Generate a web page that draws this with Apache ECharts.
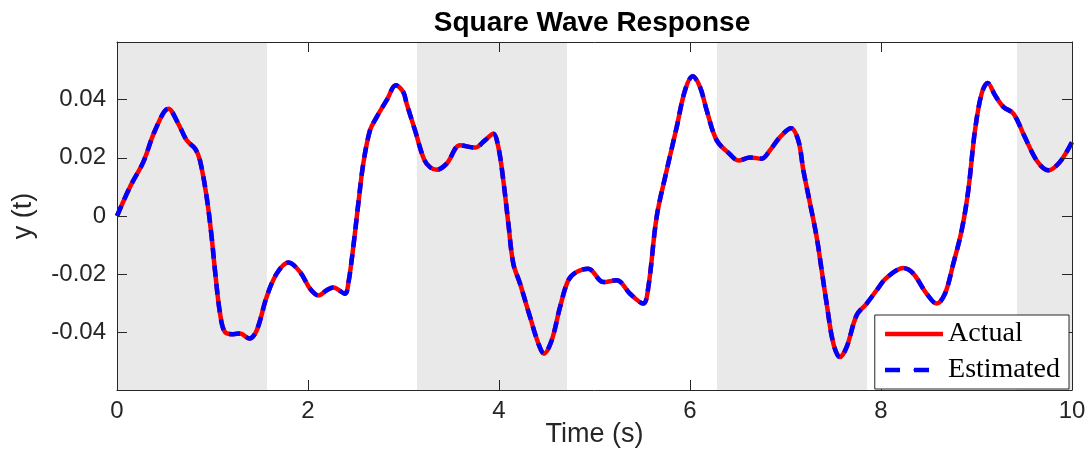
<!DOCTYPE html>
<html>
<head>
<meta charset="utf-8">
<script src="https://cdn.jsdelivr.net/npm/echarts@6/dist/echarts.min.js"></script>
<style>
  html, body { margin: 0; padding: 0; background: #fff; }
  #chart { width: 1088px; height: 450px; }
</style>
</head>
<body>
<div id="chart"></div>
<script>
// Sample times (s) of the response
const timeS = [
  0.000, 0.136, 0.276, 0.398, 0.538, 0.642, 0.730, 0.817, 0.869, 0.939,
  0.991, 1.026, 1.079, 1.131, 1.218, 1.288, 1.386, 1.463, 1.567, 1.672,
  1.794, 1.916, 2.021, 2.108, 2.196, 2.265, 2.387, 2.422, 2.474, 2.527,
  2.579, 2.649, 2.719, 2.824, 2.921, 2.998, 3.033, 3.120, 3.215, 3.277,
  3.348, 3.452, 3.592, 3.749, 3.853, 3.940, 3.993, 4.045, 4.098, 4.150,
  4.220, 4.325, 4.412, 4.471, 4.552, 4.639, 4.726, 4.814, 4.935, 5.092,
  5.232, 5.372, 5.511, 5.564, 5.651, 5.756, 5.861, 5.948, 6.028, 6.105,
  6.175, 6.280, 6.419, 6.506, 6.629, 6.751, 6.838, 6.942, 7.058, 7.134,
  7.187, 7.257, 7.326, 7.379, 7.431, 7.501, 7.571, 7.641, 7.745, 7.850,
  7.955, 8.059, 8.234, 8.338, 8.478, 8.583, 8.670, 8.757, 8.845, 8.914,
  8.984, 9.054, 9.117, 9.194, 9.281, 9.386, 9.490, 9.630, 9.752, 9.874,
  10.000
];

// Measured output y(t)
const yActual = [
  0.0000, 0.0100, 0.0186, 0.0294, 0.0369, 0.0317, 0.0260, 0.0232, 0.0191, 0.0065,
  -0.0072, -0.0187, -0.0335, -0.0399, -0.0406, -0.0404, -0.0421, -0.0393, -0.0278, -0.0198,
  -0.0160, -0.0192, -0.0250, -0.0273, -0.0255, -0.0246, -0.0267, -0.0232, -0.0107, 0.0043,
  0.0180, 0.0294, 0.0340, 0.0398, 0.0449, 0.0426, 0.0386, 0.0295, 0.0195, 0.0168,
  0.0159, 0.0180, 0.0243, 0.0235, 0.0260, 0.0283, 0.0237, 0.0123, -0.0026, -0.0164,
  -0.0232, -0.0347, -0.0438, -0.0473, -0.0427, -0.0313, -0.0221, -0.0192, -0.0181, -0.0227,
  -0.0221, -0.0267, -0.0301, -0.0244, -0.0003, 0.0157, 0.0306, 0.0432, 0.0480, 0.0443,
  0.0363, 0.0260, 0.0212, 0.0191, 0.0201, 0.0197, 0.0226, 0.0271, 0.0302, 0.0260,
  0.0157, 0.0043, -0.0072, -0.0187, -0.0301, -0.0438, -0.0485, -0.0450, -0.0341, -0.0301,
  -0.0255, -0.0212, -0.0179, -0.0198, -0.0267, -0.0301, -0.0267, -0.0164, -0.0049, 0.0088,
  0.0294, 0.0421, 0.0457, 0.0415, 0.0375, 0.0352, 0.0283, 0.0191, 0.0157, 0.0186,
  0.0254
];

// Model-estimated output y(t)
const yEstimated = [
  0.0000, 0.0100, 0.0186, 0.0294, 0.0369, 0.0317, 0.0260, 0.0232, 0.0191, 0.0065,
  -0.0072, -0.0187, -0.0335, -0.0399, -0.0406, -0.0404, -0.0421, -0.0393, -0.0278, -0.0198,
  -0.0160, -0.0192, -0.0250, -0.0273, -0.0255, -0.0246, -0.0267, -0.0232, -0.0107, 0.0043,
  0.0180, 0.0294, 0.0340, 0.0398, 0.0449, 0.0426, 0.0386, 0.0295, 0.0195, 0.0168,
  0.0159, 0.0180, 0.0243, 0.0235, 0.0260, 0.0283, 0.0237, 0.0123, -0.0026, -0.0164,
  -0.0232, -0.0347, -0.0438, -0.0473, -0.0427, -0.0313, -0.0221, -0.0192, -0.0181, -0.0227,
  -0.0221, -0.0267, -0.0301, -0.0244, -0.0003, 0.0157, 0.0306, 0.0432, 0.0480, 0.0443,
  0.0363, 0.0260, 0.0212, 0.0191, 0.0201, 0.0197, 0.0226, 0.0271, 0.0302, 0.0260,
  0.0157, 0.0043, -0.0072, -0.0187, -0.0301, -0.0438, -0.0485, -0.0450, -0.0341, -0.0301,
  -0.0255, -0.0212, -0.0179, -0.0198, -0.0267, -0.0301, -0.0267, -0.0164, -0.0049, 0.0088,
  0.0294, 0.0421, 0.0457, 0.0415, 0.0375, 0.0352, 0.0283, 0.0191, 0.0157, 0.0186,
  0.0254
];

// Intervals where the square-wave input is high
const inputHighStart = [0, 3.1416, 6.2832, 9.4248];
const inputHighEnd = [1.5708, 4.7124, 7.8540, 10];

// Axis ticks
const xTicks = [0, 2, 4, 6, 8, 10];
const yTicks = [-0.04, -0.02, 0, 0.02, 0.04];

const pairs = (xs, ys) => xs.map((x, i) => [x, ys[i]]);

const axisColor = '#262626';
const sansFont = '"Liberation Sans", Arial, Helvetica, sans-serif';
const lineW = 4.5;

const chart = echarts.init(document.getElementById('chart'), null, { renderer: 'canvas' });

const baseX = {
  type: 'value', min: 0, max: 10, interval: 2, z: 3,
  axisLine: { show: true, onZero: false, lineStyle: { color: axisColor, width: 1 } },
  axisTick: { show: true, inside: true, length: 10, customValues: xTicks, lineStyle: { color: axisColor, width: 1 } },
  splitLine: { show: false }
};
const baseY = {
  type: 'value', min: -0.0598, max: 0.0598, z: 3,
  axisLine: { show: true, onZero: false, lineStyle: { color: axisColor, width: 1 } },
  axisTick: { show: true, inside: true, length: 10, customValues: yTicks, lineStyle: { color: axisColor, width: 1 } },
  splitLine: { show: false }
};

chart.setOption({
  animation: false,
  backgroundColor: '#ffffff',
  title: {
    text: 'Square Wave Response',
    left: 587, top: 4, textAlign: 'center',
    textStyle: { fontFamily: sansFont, fontWeight: 'bold', fontSize: 28, color: '#000' }
  },
  grid: { left: 117, right: 16, top: 42, bottom: 60, containLabel: false, outerBoundsMode: 'none' },
  legend: {
    data: [
      { name: 'Actual', lineStyle: { width: lineW, type: 'solid' } },
      { name: 'Estimated', lineStyle: { width: lineW, type: [15, 14] } }
    ],
    orient: 'vertical',
    right: 19, bottom: 61,
    padding: [4, 9, 4, 8],
    itemGap: 6,
    itemWidth: 58, itemHeight: 2,
    lineStyle: { width: lineW },
    backgroundColor: '#ffffff',
    borderColor: '#262626', borderWidth: 1, borderRadius: 0,
    textStyle: { fontFamily: '"Liberation Serif", "DejaVu Serif", serif', fontSize: 28, color: '#000', lineHeight: 30 }
  },
  xAxis: [
    Object.assign({}, baseX, {
      position: 'bottom',
      name: 'Time (s)', nameLocation: 'middle', nameGap: 31, nameMoveOverlap: false,
      nameTextStyle: { fontFamily: sansFont, fontSize: 27, color: axisColor },
      axisLabel: { show: true, customValues: xTicks, margin: 9, fontFamily: sansFont, fontSize: 24, color: axisColor }
    }),
    Object.assign({}, baseX, { position: 'top', axisLabel: { show: false } })
  ],
  yAxis: [
    Object.assign({}, baseY, {
      position: 'left',
      name: 'y (t)', nameLocation: 'middle', nameGap: 80, nameRotate: 90,
      nameTextStyle: { fontFamily: sansFont, fontSize: 27, color: axisColor },
      axisLabel: { show: true, customValues: yTicks, margin: 11, fontFamily: sansFont, fontSize: 24, color: axisColor, padding: [7, 0, 0, 0] }
    }),
    Object.assign({}, baseY, { position: 'right', axisLabel: { show: false } })
  ],
  series: [
    {
      name: 'input high',
      type: 'line',
      data: [],
      z: 0,
      silent: true,
      markArea: {
        silent: true,
        itemStyle: { color: '#e9e9e9' },
        data: inputHighStart.map((s, i) => [{ xAxis: s }, { xAxis: inputHighEnd[i] }])
      }
    },
    {
      name: 'Actual',
      type: 'line',
      data: pairs(timeS, yActual),
      smooth: 0.35,
      symbol: 'none',
      z: 2,
      lineStyle: { color: '#ff0000', width: lineW },
      itemStyle: { color: '#ff0000' }
    },
    {
      name: 'Estimated',
      type: 'line',
      data: pairs(timeS, yEstimated),
      smooth: 0.35,
      symbol: 'none',
      z: 2,
      lineStyle: { color: '#0000ff', width: lineW, type: [11, 7] },
      itemStyle: { color: '#0000ff' }
    }
  ]
});
</script>
</body>
</html>
